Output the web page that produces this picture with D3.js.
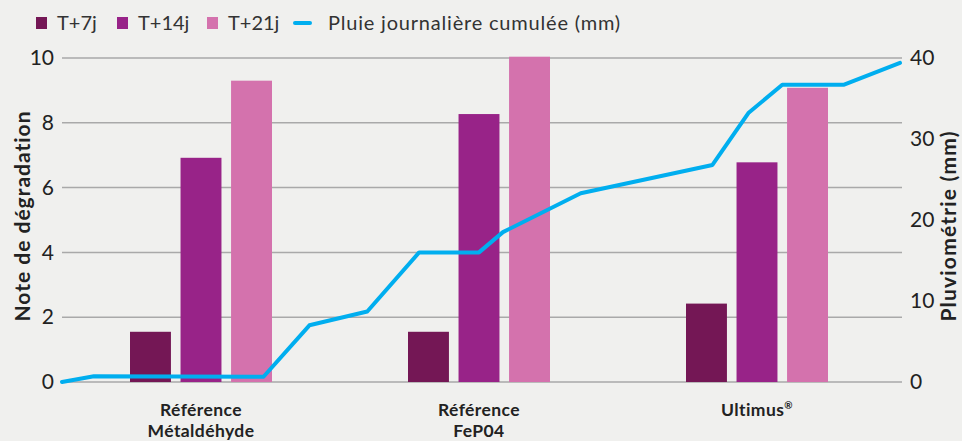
<!DOCTYPE html>
<html>
<head>
<meta charset="utf-8">
<script src="https://cdn.jsdelivr.net/npm/d3@7"></script>
<style>
  body { margin: 0; background: #f0f0ee; }
  svg { display: block; font-family: Lato, "Noto Sans", sans-serif; }
</style>
</head>
<body>
<div id="chart"></div>
<script>
// data
var categories = ["Référence|Métaldéhyde", "Référence|FeP04", "Ultimus"];
var series = ["T+7j", "T+14j", "T+21j"];
var t7 = [1.55, 1.55, 2.42];
var t14 = [6.92, 8.27, 6.78];
var t21 = [9.3, 10.04, 9.08];
var leftTicks = [0, 2, 4, 6, 8, 10];
var rightTicks = [0, 10, 20, 30, 40];

// cumulated rain (mm) against an approximate day position
var rainDay = [0, 0.8, 5.05, 6.2, 7.65, 8.95, 10.45, 11.05, 13.0, 16.3, 17.2, 18.05, 19.6, 21];
var rainMm = [0, 0.7, 0.65, 7.0, 8.7, 16, 16, 18.5, 23.3, 26.8, 33.2, 36.7, 36.7, 39.4];

var colors = d3.scaleOrdinal().domain(series).range(["#741755", "#982388", "#d472ad"]);
var lineColor = "#00aeef";

var W = 962, H = 441;
var margin = {top: 58, right: 60, bottom: 59, left: 62};
var width = W - margin.left - margin.right,
    height = H - margin.top - margin.bottom;

var svg = d3.select("#chart").append("svg")
  .attr("width", W)
  .attr("height", H);

var g = svg.append("g")
  .attr("transform", `translate(${margin.left},${margin.top})`);

var y = d3.scaleLinear().domain([0, 10]).range([height, 0]);
var y2 = d3.scaleLinear().domain([0, 40]).range([height, 0]);
var x0 = d3.scaleBand().domain(categories).range([0, width - 6]);
var x1 = d3.scaleBand().domain(series).range([-71, 71]).paddingInner(0.19);
var xl = d3.scaleLinear().domain([0, 21]).range([0, width - 2]);

// gridlines
g.append("g")
  .selectAll("line")
  .data(leftTicks)
  .join("line")
  .attr("x1", 0)
  .attr("x2", width)
  .attr("y1", d => y(d))
  .attr("y2", d => y(d))
  .attr("stroke", "#a9a9a9")
  .attr("stroke-width", 1.5);

// left axis
var axL = g.append("g")
  .call(d3.axisLeft(y).tickValues(leftTicks).tickSize(0).tickPadding(8));
axL.select(".domain").remove();
axL.selectAll("text").attr("font-size", 21).attr("fill", "#222").attr("font-family", "Lato");

// right axis
var axR = g.append("g")
  .attr("transform", `translate(${width},0)`)
  .call(d3.axisRight(y2).tickValues(rightTicks).tickSize(0).tickPadding(8));
axR.select(".domain").remove();
axR.selectAll("text").attr("font-size", 21).attr("fill", "#222").attr("font-family", "Lato");

// bars
var rows = categories.map(function (c, i) {
  return {cat: c, vals: [t7[i], t14[i], t21[i]]};
});

g.append("g")
  .selectAll("g")
  .data(rows)
  .join("g")
  .attr("transform", d => `translate(${x0(d.cat) + x0.bandwidth() / 2},0)`)
  .selectAll("rect")
  .data(d => d.vals.map((v, j) => ({s: series[j], v: v})))
  .join("rect")
  .attr("x", d => x1(d.s))
  .attr("width", x1.bandwidth())
  .attr("y", d => y(d.v))
  .attr("height", d => height - y(d.v))
  .attr("fill", d => colors(d.s));

// rain line
var rain = rainDay.map((d, i) => [d, rainMm[i]]);
g.append("path")
  .datum(rain)
  .attr("fill", "none")
  .attr("stroke", lineColor)
  .attr("stroke-width", 4)
  .attr("stroke-linejoin", "round")
  .attr("stroke-linecap", "round")
  .attr("d", d3.line().x(d => xl(d[0])).y(d => y2(d[1])));

// category labels, one text per line
var catLines = [];
categories.forEach(function (c) {
  c.split("|").forEach(function (p, i) {
    catLines.push({cat: c, text: p, line: i});
  });
});

var catLab = g.append("g")
  .selectAll("text")
  .data(catLines)
  .join("text")
  .attr("x", d => x0(d.cat) + x0.bandwidth() / 2)
  .attr("y", d => height + 34 + d.line * 21)
  .attr("text-anchor", "middle")
  .attr("font-size", 17.5)
  .attr("letter-spacing", 0.4)
  .attr("font-weight", "bold")
  .attr("fill", "#222")
  .text(d => d.text);

catLab.filter(d => d.text === "Ultimus")
  .append("tspan")
  .attr("font-size", 10)
  .attr("dy", -7)
  .text("®");

// axis titles
svg.append("text")
  .attr("transform", "translate(30,216) rotate(-90)")
  .attr("text-anchor", "middle")
  .attr("font-size", 21)
  .attr("letter-spacing", 1)
  .attr("font-weight", "bold")
  .attr("fill", "#222")
  .text("Note de dégradation");

svg.append("text")
  .attr("transform", "translate(956,226) rotate(-90)")
  .attr("text-anchor", "middle")
  .attr("font-size", 21)
  .attr("letter-spacing", 1.2)
  .attr("font-weight", "bold")
  .attr("fill", "#222")
  .text("Pluviométrie (mm)");

// legend
var legend = svg.append("g").attr("transform", "translate(36,23)");
var legX = [0, 81, 171];
series.forEach(function (s, i) {
  legend.append("rect")
    .attr("x", legX[i])
    .attr("y", -6)
    .attr("width", 11)
    .attr("height", 12)
    .attr("fill", colors(s));
  legend.append("text")
    .attr("x", legX[i] + 21)
    .attr("y", 0)
    .attr("dy", "0.35em")
    .attr("font-size", 20)
    .attr("fill", "#333")
    .text(s);
});
legend.append("line")
  .attr("x1", 259).attr("x2", 274)
  .attr("y1", 0).attr("y2", 0)
  .attr("stroke", lineColor)
  .attr("stroke-width", 4)
  .attr("stroke-linecap", "round");
legend.append("text")
  .attr("x", 292)
  .attr("y", 0)
  .attr("dy", "0.35em")
  .attr("font-size", 20)
  .attr("letter-spacing", 0.8)
  .attr("fill", "#333")
  .text("Pluie journalière cumulée (mm)");
</script>
</body>
</html>
